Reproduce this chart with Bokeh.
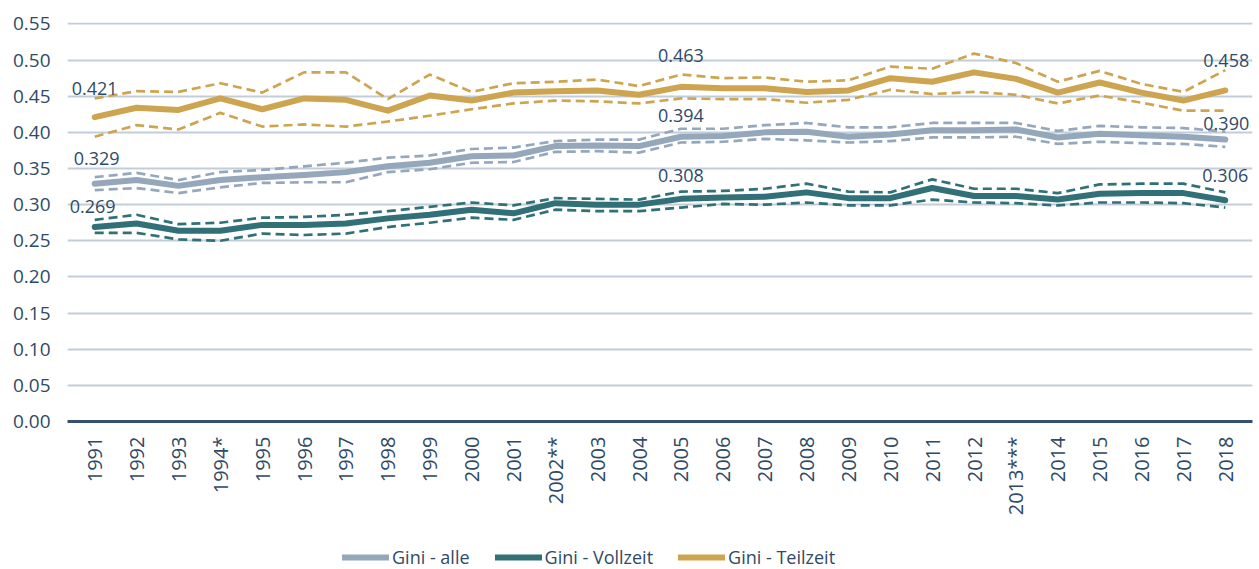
import math
from bokeh.plotting import figure
from bokeh.layouts import column
from bokeh.core.properties import value
from bokeh.models import (ColumnDataSource, FactorRange, Range1d, FixedTicker,
                          NumeralTickFormatter, Legend, LegendItem, LabelSet)
from bokeh.embed import file_html
from bokeh.resources import INLINE

years = ["1991", "1992", "1993", "1994*", "1995", "1996", "1997", "1998", "1999", "2000",
         "2001", "2002**", "2003", "2004", "2005", "2006", "2007", "2008", "2009", "2010",
         "2011", "2012", "2013***", "2014", "2015", "2016", "2017", "2018"]

alle = [0.329, 0.334, 0.326, 0.334, 0.338, 0.341, 0.345, 0.353, 0.358, 0.367,
        0.368, 0.381, 0.382, 0.381, 0.394, 0.395, 0.400, 0.401, 0.394, 0.397,
        0.403, 0.403, 0.404, 0.393, 0.398, 0.396, 0.394, 0.390]
alle_hi = [0.338, 0.344, 0.334, 0.345, 0.348, 0.353, 0.358, 0.365, 0.368, 0.377,
           0.379, 0.388, 0.390, 0.390, 0.405, 0.405, 0.410, 0.413, 0.407, 0.407,
           0.413, 0.413, 0.413, 0.402, 0.409, 0.407, 0.406, 0.401]
alle_lo = [0.320, 0.323, 0.316, 0.324, 0.330, 0.331, 0.331, 0.345, 0.349, 0.358,
           0.359, 0.373, 0.374, 0.372, 0.386, 0.387, 0.391, 0.389, 0.386, 0.388,
           0.393, 0.393, 0.394, 0.384, 0.387, 0.385, 0.384, 0.380]

voll = [0.269, 0.274, 0.264, 0.264, 0.272, 0.272, 0.274, 0.281, 0.286, 0.293,
        0.288, 0.302, 0.300, 0.300, 0.308, 0.310, 0.311, 0.317, 0.309, 0.309,
        0.323, 0.312, 0.312, 0.307, 0.315, 0.316, 0.316, 0.306]
voll_hi = [0.279, 0.286, 0.273, 0.275, 0.282, 0.283, 0.286, 0.291, 0.297, 0.303,
           0.299, 0.309, 0.308, 0.307, 0.318, 0.319, 0.322, 0.329, 0.318, 0.317,
           0.335, 0.322, 0.322, 0.316, 0.328, 0.329, 0.329, 0.317]
voll_lo = [0.261, 0.261, 0.252, 0.250, 0.260, 0.258, 0.260, 0.269, 0.275, 0.282,
           0.279, 0.293, 0.291, 0.291, 0.296, 0.301, 0.300, 0.303, 0.299, 0.299,
           0.307, 0.303, 0.302, 0.299, 0.303, 0.303, 0.302, 0.296]

teil = [0.421, 0.434, 0.431, 0.447, 0.432, 0.447, 0.445, 0.430, 0.451, 0.444,
        0.455, 0.457, 0.458, 0.452, 0.463, 0.461, 0.461, 0.456, 0.458, 0.475,
        0.470, 0.483, 0.474, 0.455, 0.469, 0.455, 0.444, 0.458]
teil_hi = [0.447, 0.457, 0.456, 0.468, 0.455, 0.483, 0.483, 0.446, 0.480, 0.456,
           0.468, 0.470, 0.473, 0.464, 0.480, 0.475, 0.476, 0.470, 0.472, 0.491,
           0.488, 0.509, 0.496, 0.470, 0.485, 0.467, 0.456, 0.486]
teil_lo = [0.394, 0.410, 0.404, 0.427, 0.408, 0.411, 0.408, 0.415, 0.423, 0.432,
           0.440, 0.444, 0.443, 0.440, 0.447, 0.446, 0.446, 0.441, 0.445, 0.459,
           0.453, 0.456, 0.452, 0.440, 0.451, 0.441, 0.430, 0.430]

label_years = ["1991", "1991", "1991", "2005", "2005", "2005", "2018", "2018", "2018"]
label_values = [0.421, 0.329, 0.269, 0.463, 0.394, 0.308, 0.458, 0.390, 0.306]
label_texts = ["0.421", "0.329", "0.269", "0.463", "0.394", "0.308", "0.458", "0.390", "0.306"]

series_names = ["Gini - alle", "Gini - Vollzeit", "Gini - Teilzeit"]

y_ticks = [0.0, 0.05, 0.10, 0.15, 0.20, 0.25, 0.30, 0.35, 0.40, 0.45, 0.50, 0.55]

# styling
FONT = "Open Sans"
TXT = "#2f4a66"
C_ALLE = "#94a7bb"
C_VOLL = "#307076"
C_TEIL = "#cda550"
label_dx = [0, 2, -2, 0, 0, 0, 1, 1, 0]
label_dy = [29, 25, 21, 31, 21, 23, 30, 16, 25]

p = figure(width=1259, height=534,
           x_range=FactorRange(*years, range_padding=0.15, range_padding_units="absolute"),
           y_range=Range1d(0, 0.552), output_backend="svg", toolbar_location=None,
           min_border_left=67, min_border_right=7, min_border_top=22, min_border_bottom=113)
p.outline_line_color = None
p.background_fill_color = "white"
p.border_fill_color = "white"

src = ColumnDataSource(dict(x=years, alle=alle, alle_hi=alle_hi, alle_lo=alle_lo,
                            voll=voll, voll_hi=voll_hi, voll_lo=voll_lo,
                            teil=teil, teil_hi=teil_hi, teil_lo=teil_lo))

for key, col in (("alle", C_ALLE), ("voll", C_VOLL), ("teil", C_TEIL)):
    for suf in ("_hi", "_lo"):
        p.line("x", key + suf, source=src, line_color=col, line_width=2.7,
               line_dash="9 5", line_join="round")
    p.line("x", key, source=src, line_color=col, line_width=6,
           line_join="round", line_cap="round")

lsrc = ColumnDataSource(dict(x=label_years, y=label_values, text=label_texts,
                             dx=label_dx, dy=label_dy))
labels = LabelSet(x="x", y="y", text="text", source=lsrc, x_offset="dx", y_offset="dy",
                  text_align="center", text_baseline="middle", text_font=value(FONT),
                  text_font_size="18px", text_color=TXT)
p.add_layout(labels)

# axes
p.xgrid.grid_line_color = None
p.ygrid.grid_line_color = "#c2cdd9"
p.ygrid.grid_line_width = 2
p.yaxis.ticker = FixedTicker(ticks=y_ticks)
p.yaxis.formatter = NumeralTickFormatter(format="0.00")
p.yaxis.axis_line_color = None
p.yaxis.major_tick_line_color = None
p.yaxis.minor_tick_line_color = None
p.yaxis.major_tick_in = 0
p.yaxis.major_tick_out = 0
p.yaxis.major_label_standoff = 17
p.yaxis.major_label_text_font = FONT
p.yaxis.major_label_text_font_size = "19px"
p.yaxis.major_label_text_color = TXT

p.xaxis.axis_line_color = "#34506c"
p.xaxis.axis_line_width = 3
p.xaxis.major_tick_line_color = None
p.xaxis.major_tick_in = 0
p.xaxis.major_tick_out = 0
p.xaxis.major_label_orientation = math.pi / 2
p.xaxis.major_label_standoff = 15
p.xaxis.major_label_text_font = FONT
p.xaxis.major_label_text_font_size = "20px"
p.xaxis.major_label_text_color = TXT

# legend in its own strip below the chart (frames are aligned with the chart's frame)
lg = figure(width=1259, height=35, output_backend="svg", toolbar_location=None,
            x_axis_type=None, y_axis_type=None, min_border=0,
            x_range=Range1d(0, 1), y_range=Range1d(0, 1))
lg.outline_line_color = None
lg.xgrid.grid_line_color = None
lg.ygrid.grid_line_color = None
offscreen = ColumnDataSource(dict(x=[5, 6], y=[5, 6]))
items = []
for name, col in zip(series_names, (C_ALLE, C_VOLL, C_TEIL)):
    r = lg.line("x", "y", source=offscreen, line_color=col, line_width=6, line_cap="round")
    items.append(LegendItem(label=name, renderers=[r]))
legend = Legend(items=items, orientation="horizontal", location=(275, 0))
legend.label_text_font = FONT
legend.label_text_font_size = "18px"
legend.label_text_color = TXT
legend.glyph_width = 47
legend.glyph_height = 22
legend.label_standoff = 3
legend.spacing = 25
legend.border_line_color = None
legend.background_fill_alpha = 0
legend.margin = 0
legend.padding = 0
lg.add_layout(legend)

open("out.html", "w").write(file_html(column(p, lg, spacing=0), INLINE))
